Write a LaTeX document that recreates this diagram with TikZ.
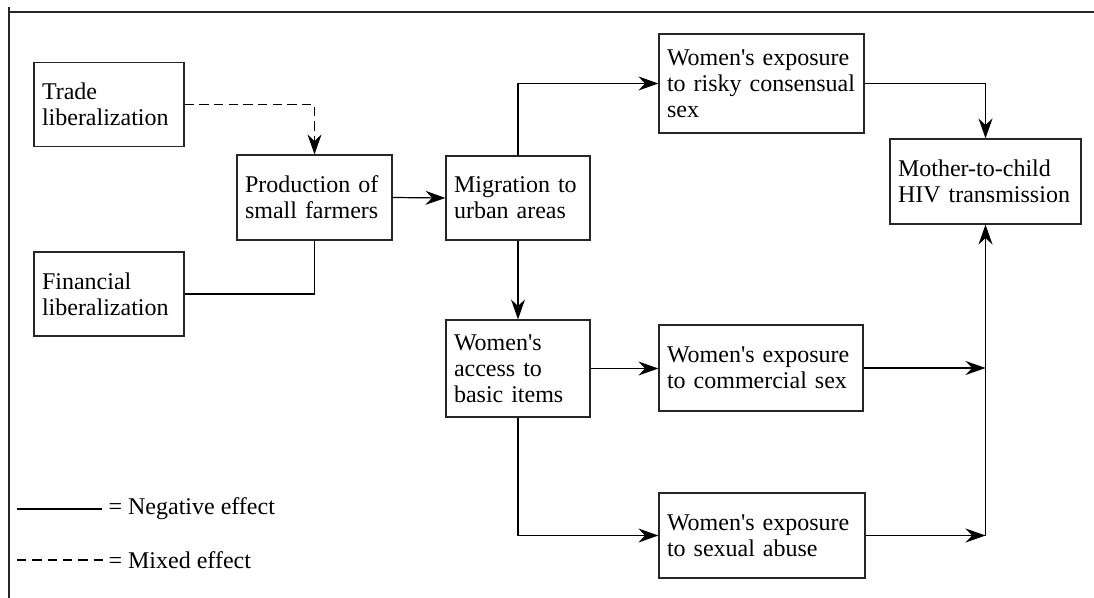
\documentclass[tikz,border=0pt]{standalone}
\usepackage{fontspec}
\setmainfont{Liberation Serif}[Ligatures=TeXOff]
\usetikzlibrary{arrows.meta}

\tikzset{every picture/.style={line width=0.9pt}}
\tikzset{
  blk/.style 2 args={draw=black!85, align=left, text width=#1, minimum height=#2,
    inner xsep=6pt, inner ysep=0pt, font=\fontsize{18}{19.5}\selectfont},
  arr/.style={-{Stealth[length=15pt,width=10.5pt,inset=5pt]}},
  mixed/.style={dash pattern=on 7pt off 4pt},
  lgd/.style={anchor=west, inner sep=0pt, font=\fontsize{18}{19.5}\selectfont}
}

\begin{document}
\begin{tikzpicture}[x=0.75pt,y=0.75pt,yscale=-1,xscale=1]
\useasboundingbox (0,0) rectangle (1094,598);

%Frame
\draw [black!85] (9,7) -- (9,598) ;
\draw [black!85] (9,12) -- (1094,12) ;

% Boxes
\node [blk={100.5pt}{63pt}] (trade) at (109,104.5) {Trade\\liberalization};
\node [blk={104.25pt}{63.75pt}] (prod) at (314.5,197.5) {Production of\\small farmers};
\node [blk={100.5pt}{63pt}] (fin) at (109,294) {Financial\\liberalization};
\node [blk={96pt}{63pt}] (migr) at (518,198) {Migration to\\urban areas};
\node [blk={141.75pt}{74.25pt}] (risky) at (761.5,83.5) {Women's exposure\\to risky consensual\\sex};
\node [blk={131.25pt}{63.75pt}] (mtc) at (985.5,181.5) {Mother-to-child\\HIV transmission};
\node [blk={96pt}{72.75pt}] (access) at (518,368.5) {Women's\\access to\\basic items};
\node [blk={141pt}{64.5pt}] (comm) at (761,368) {Women's exposure\\to commercial sex};
\node [blk={142.5pt}{63.75pt}] (abuse) at (762,535.5) {Women's exposure\\to sexual abuse};

%Connectors
\draw [arr, mixed] (trade.east) -| (prod.north) ;
\draw (fin.east) -| (prod.south) ;
\draw [arr] (prod.east) -- (migr.west) ;
\draw [arr] (migr.north) |- (risky.west) ;
\draw [arr] (risky.east) -| (mtc.north) ;
\draw [arr] (migr.south) -- (access.north) ;
\draw [arr] (access.east) -- (comm.west |- access.east) ;
\draw [arr] (access.south) |- (abuse.west) ;
\coordinate (jc) at (comm.east -| mtc.south) ;
\coordinate (ja) at (abuse.east -| mtc.south) ;
\draw [arr] (comm.east) -- (jc) ;
\draw [arr] (abuse.east) -- (ja) ;
\draw [arr] (ja) -- (mtc.south) ;

%Legend
\node [lgd] (neg) at (108,509) {= Negative effect};
\node [lgd] (mix) at (108,560) {= Mixed effect};
\coordinate (negl) at (17,509) ;
\coordinate (mixl) at (17,560) ;
\draw (negl) -- ([xshift=-4.5pt]neg.west) ;
\draw [dash pattern=on 7pt off 4.5pt] (mixl) -- ([xshift=-3pt]mix.west) ;

\end{tikzpicture}
\end{document}
